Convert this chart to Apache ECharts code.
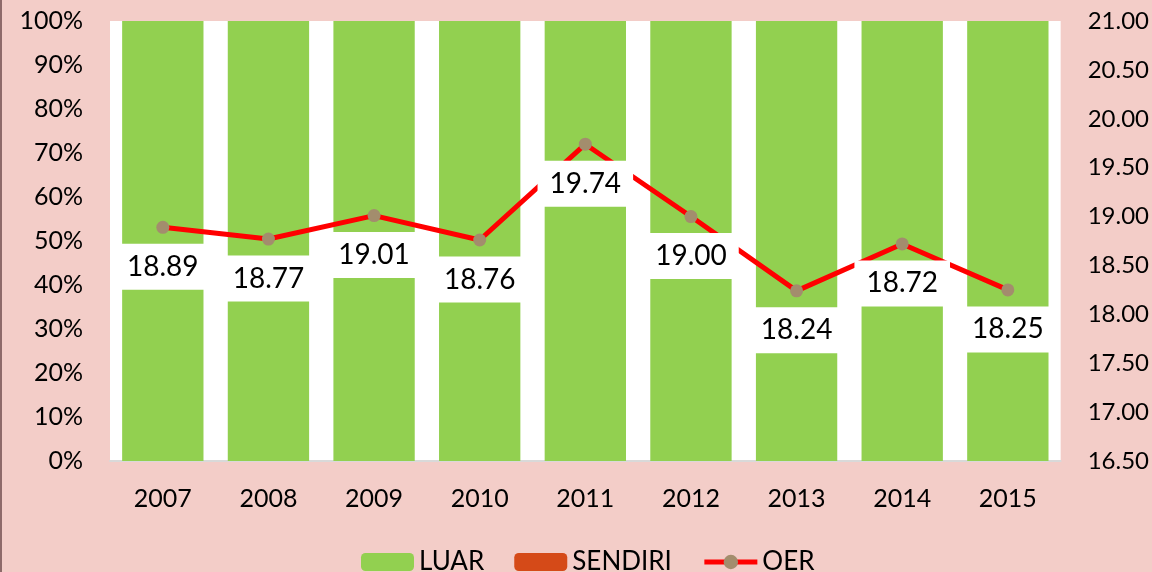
<!DOCTYPE html>
<html><head><meta charset="utf-8">
<script src="https://cdn.jsdelivr.net/npm/echarts@6/dist/echarts.min.js"></script>
<style>html,body{margin:0;padding:0;background:#F3CDC8;}#c{width:1152px;height:572px;}</style>
</head><body><div id="c"></div>
<script>
var categories = ['2007','2008','2009','2010','2011','2012','2013','2014','2015'];
var luar = [100,100,100,100,100,100,100,100,100];
var sendiri = [0,0,0,0,0,0,0,0,0];
var oer = [18.89,18.77,19.01,18.76,19.74,19.00,18.24,18.72,18.25];
var font = 'Lato, "Open Sans", sans-serif';
var chart = echarts.init(document.getElementById('c'));
chart.setOption({
  backgroundColor: '#F3CDC8',
  animation: false,
  textStyle: {fontFamily: font},
  graphic: [{type:'rect', shape:{x:0,y:0,width:2,height:572}, style:{fill:'#8E6A6A'}}],
  grid: {left:110, right:91, top:21, bottom:111, show:true, backgroundColor:'#fff', borderWidth:0},
  legend: {
    bottom: -8, left: 356, itemWidth: 53, itemHeight: 18, itemGap: 30,
    textStyle: {fontSize: 26, color:'#000', fontFamily: font},
    lineStyle: {width: 5},
    data: ['LUAR','SENDIRI','OER']
  },
  xAxis: {
    type:'category', data: categories,
    axisLine:{lineStyle:{color:'#D9D9D9', width:2}}, axisTick:{show:false},
    axisLabel:{fontSize:25, color:'#000', margin:25, fontFamily: font}
  },
  yAxis: [
    {type:'value', min:0, max:100, interval:10, splitLine:{show:false},
     axisLine:{show:false}, axisTick:{show:false},
     axisLabel:{formatter:'{value}%', fontSize:25, color:'#000', margin:27, fontFamily: font}},
    {type:'value', min:16.5, max:21, interval:0.5, splitLine:{show:false},
     axisLine:{show:false}, axisTick:{show:false},
     axisLabel:{formatter:function(v){return v.toFixed(2);}, fontSize:24, color:'#000', margin:27, fontFamily: font}}
  ],
  series: [
    {name:'LUAR', type:'bar', stack:'s', data: luar, barCategoryGap:'23%', itemStyle:{color:'#92D050'}},
    {name:'SENDIRI', type:'bar', stack:'s', data: sendiri, itemStyle:{color:'#D54A18'}},
    {name:'OER', type:'line', yAxisIndex:1, data: oer, symbol:'circle', symbolSize:13,
     itemStyle:{color:'#A38D6D'}, lineStyle:{color:'#FF0000', width:5}, z:5,
     label:{show:true, position:'bottom', distance:10, formatter:function(p){return p.value.toFixed(2);},
       fontSize:28, color:'#000', backgroundColor:'#fff', padding:[9,12,9,12], fontFamily: font}}
  ]
});
</script></body></html>
